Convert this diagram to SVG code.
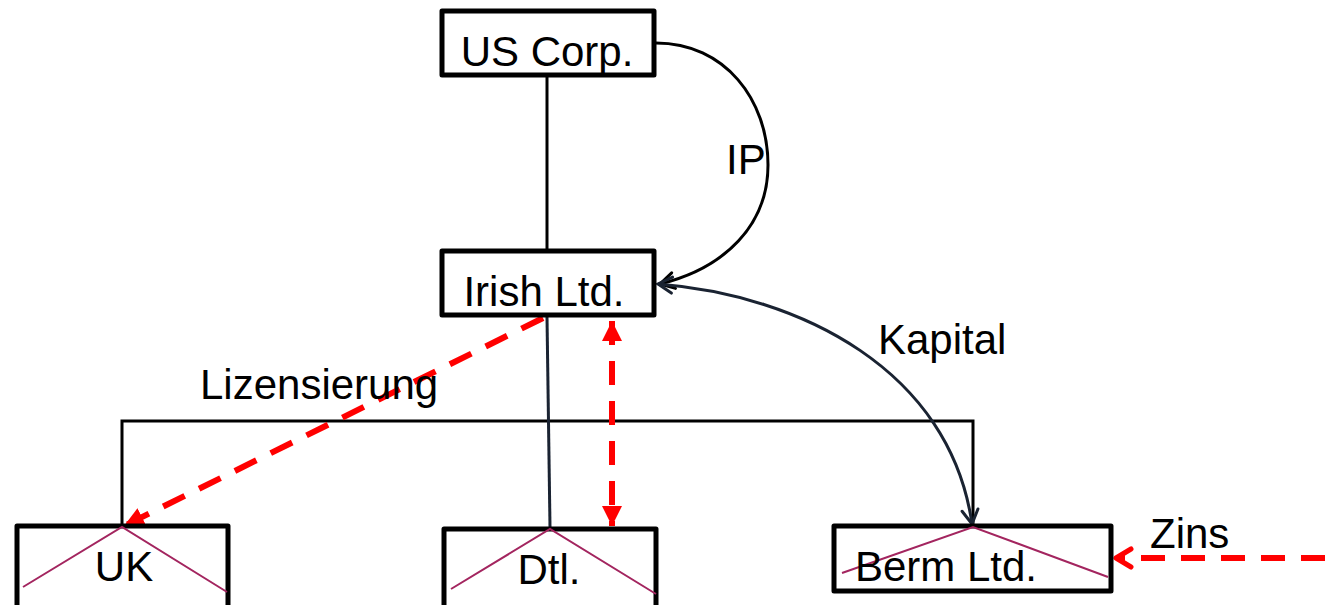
<svg xmlns="http://www.w3.org/2000/svg" width="1325" height="605" viewBox="0 0 1325 605">
<style>
.box{fill:#fff;stroke:#000;stroke-width:5;stroke-linejoin:round}
.lbl{font-family:"Liberation Sans",Arial,sans-serif;font-size:42px;fill:#000}
.x{fill:none;stroke:#a3255f;stroke-width:2}
.tree{fill:none;stroke:#000;stroke-width:3}
.red{fill:none;stroke:#ff0000;stroke-width:6;stroke-dasharray:24 16}
.dark{fill:none;stroke:#1a2332;stroke-width:3}
</style>
<defs>
<marker id="open" viewBox="0 0 20 20" refX="18" refY="10" markerWidth="20" markerHeight="20" markerUnits="userSpaceOnUse" orient="auto-start-reverse">
<path d="M4,2 L18,10 L4,18" fill="none" stroke="#1a2332" stroke-width="3" stroke-linecap="round"/>
</marker>
<marker id="openblk" viewBox="0 0 20 20" refX="18" refY="10" markerWidth="20" markerHeight="20" markerUnits="userSpaceOnUse" orient="auto">
<path d="M4,2 L18,10 L4,18" fill="none" stroke="#000" stroke-width="3" stroke-linecap="round"/>
</marker>
<marker id="redtri" viewBox="0 0 20 20" refX="20" refY="10" markerWidth="20" markerHeight="20" markerUnits="userSpaceOnUse" orient="auto-start-reverse">
<path d="M0,0 L20,10 L0,20 Z" fill="#ff0000"/>
</marker>
<marker id="redopen" viewBox="0 0 24 24" refX="21" refY="12" markerWidth="24" markerHeight="24" markerUnits="userSpaceOnUse" orient="auto">
<path d="M6,3 L21,12 L6,21" fill="none" stroke="#ff0000" stroke-width="5" stroke-linecap="round" stroke-linejoin="round"/>
</marker>
</defs>
<g id="connectors">
<line class="tree" x1="547" y1="77" x2="547" y2="251"/>
<polyline class="tree" points="122,526 122,421 973,421 973,526"/>
<line class="dark" x1="547" y1="317" x2="550" y2="527"/>
<path class="tree" d="M656,43 C725,43 768,100 768,165 C768,225 725,268 660,284" marker-end="url(#openblk)"/>
<path class="dark" d="M658,284 C800,295 950,370 972,524" marker-start="url(#open)" marker-end="url(#open)"/>
<line class="red" x1="543" y1="318" x2="124" y2="526" marker-end="url(#redtri)"/>
<line class="red" stroke-dasharray="20 14" x1="612" y1="321" x2="612" y2="526" marker-start="url(#redtri)" marker-end="url(#redtri)"/>
<line class="red" stroke-dasharray="28 16" x1="1325" y1="558" x2="1116" y2="558" marker-end="url(#redopen)"/>
</g>
<g id="us-corp">
<rect class="box" x="442" y="11" width="212" height="64"/>
<text class="lbl" x="547" y="66" text-anchor="middle">US Corp.</text>
</g>
<g id="irish-ltd">
<rect class="box" x="442" y="251" width="212" height="64"/>
<text class="lbl" x="544" y="306" text-anchor="middle">Irish Ltd.</text>
</g>
<g id="uk">
<rect class="box" x="17" y="526" width="211" height="95"/>
<polyline class="x" points="23,587 122,527 227,592"/>
<text class="lbl" x="124" y="581" text-anchor="middle">UK</text>
</g>
<g id="dtl">
<rect class="box" x="444" y="529" width="212" height="95"/>
<polyline class="x" points="451,589 550,529 656,594"/>
<text class="lbl" x="549" y="584" text-anchor="middle">Dtl.</text>
</g>
<g id="berm-ltd">
<rect class="box" x="834" y="526" width="277" height="65"/>
<polyline class="x" points="842,573 973,527 1108,577"/>
<text class="lbl" x="946" y="581" text-anchor="middle">Berm Ltd.</text>
</g>
<g id="labels">
<text class="lbl" x="726" y="174">IP</text>
<text class="lbl" x="878" y="354">Kapital</text>
<text class="lbl" x="200" y="399">Lizensierung</text>
<text class="lbl" x="1150" y="548">Zins</text>
</g>
</svg>
